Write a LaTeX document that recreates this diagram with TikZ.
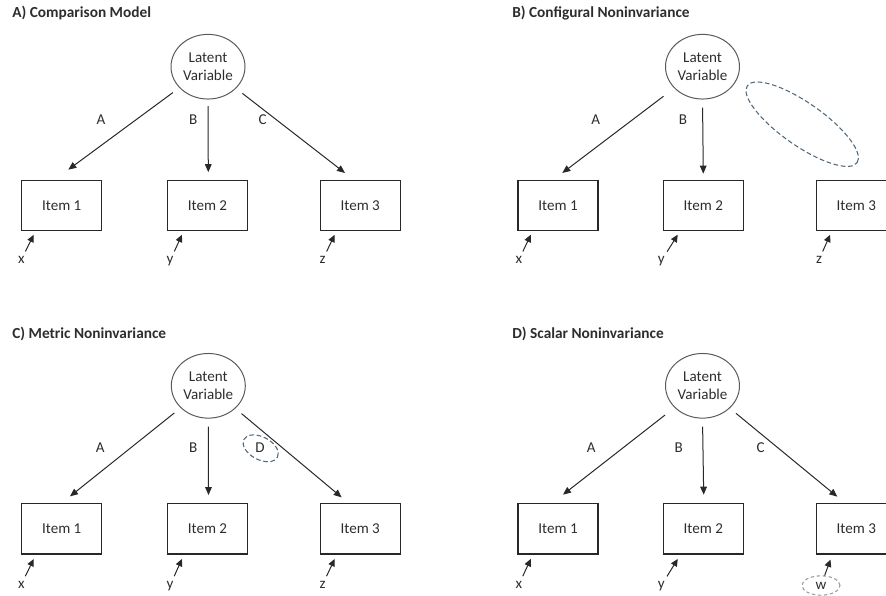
\documentclass[tikz,border=0pt]{standalone}
\usepackage{fontspec}
\setmainfont{Carlito}
\usetikzlibrary{shapes.geometric,arrows.meta,calc}
\definecolor{ln}{RGB}{40,40,40}
\definecolor{lvln}{RGB}{90,90,90}
\definecolor{tx}{RGB}{45,45,45}
\definecolor{hlblue}{RGB}{78,104,124}
\definecolor{hlgray}{RGB}{150,156,166}
\begin{document}
\begin{tikzpicture}[x=0.75pt,y=-0.75pt,
  every node/.style={font=\fontsize{11.3}{13.9}\selectfont, text=tx},
  lv/.style={ellipse, draw=lvln, line width=0.75pt, minimum width=55.5pt, minimum height=48.5pt, inner sep=0pt, align=center},
  item/.style={rectangle, draw=ln, line width=0.8pt, minimum width=60pt, minimum height=37.8pt, inner sep=0pt},
  ttl/.style={anchor=base west, inner sep=0pt, font=\bfseries\fontsize{11.5}{14}\selectfont},
  lbl/.style={anchor=base, inner sep=1pt},
  arr/.style={-{Triangle[length=6pt,width=5pt]}, draw=ln, line width=0.75pt},
  earr/.style={-{Triangle[length=5.5pt,width=5pt]}, draw=ln, line width=0.75pt, shorten <=2.5pt},
  hl/.style={ellipse, draw=hlblue, line width=0.8pt, dash pattern=on 3.5pt off 2pt, inner sep=0pt},
  hlg/.style={ellipse, draw=hlgray, line width=0.8pt, dash pattern=on 2.5pt off 2pt, inner sep=0pt}
]
\useasboundingbox (0,0) rectangle (886,596);
\clip (0,0) rectangle (886,596);

% ---------------- Panel A ----------------
\node[ttl] (aT) at (12,17.5) {A) Comparison Model};
\node[lv] (aL) at (208,66.7) {Latent\\Variable};
\node[item] (a1) at (61.7,205.4) {Item 1};
\node[item] (a2) at (207.5,205.4) {Item 2};
\node[item] (a3) at (360.2,205.4) {Item 3};
\coordinate (a1t) at ($(a1.north)+(6.6,-10)$);
\coordinate (a2t) at ($(a2.north)+(0.8,-7.5)$);
\coordinate (a3t) at ($(a3.north)+(-15.2,-6.7)$);
\draw[arr, shorten <=6pt] (aL) -- (a1t);
\draw[arr, shorten <=5pt] (aL.south) -- (a2t);
\draw[arr, shorten <=6pt] (aL) -- (a3t);
\node[lbl] (aA) at (101,124) {A};
\node[lbl] (aB) at (193.3,124) {B};
\node[lbl] (aC) at (262.7,124) {C};
\node[lbl] (ax) at (21.3,263.3) {x};
\node[lbl] (ay) at (170,263.3) {y};
\node[lbl] (az) at (322.7,263.3) {z};
\coordinate (axt) at ($(a1.south west)+(12.6,3.6)$);
\coordinate (ayt) at ($(a2.south west)+(15,3.6)$);
\coordinate (azt) at ($(a3.south west)+(15,3.6)$);
\draw[earr] (ax) -- (axt);
\draw[earr] (ay) -- (ayt);
\draw[earr] (az) -- (azt);

% ---------------- Panel B ----------------
\node[ttl] (bT) at (512,17.5) {B) Configural Noninvariance};
\node[lv] (bL) at (702.5,66.7) {Latent\\Variable};
\node[item] (b1) at (558,205.4) {Item 1};
\node[item] (b2) at (703.3,205.4) {Item 2};
\node[item] (b3) at (856.3,205.4) {Item 3};
\coordinate (b1t) at ($(b1.north)+(4.3,-6.7)$);
\coordinate (b2t) at ($(b2.north)+(0,-6)$);
\draw[arr, shorten <=10pt] (bL) -- (b1t);
\draw[arr, shorten <=6pt] (bL.south) -- (b2t);
\node[lbl] (bA) at (595.7,124) {A};
\node[lbl] (bB) at (683,124) {B};
\node[hl, minimum width=100.5pt, minimum height=32pt, rotate=-35] (bH) at (802.2,124.2) {};
\node[lbl] (bx) at (519,263.3) {x};
\node[lbl] (by) at (661.3,263.3) {y};
\node[lbl] (bz) at (819,263.3) {z};
\coordinate (bxt) at ($(b1.south west)+(13.3,3.6)$);
\coordinate (byt) at ($(b2.south west)+(15,3.6)$);
\coordinate (bzt) at ($(b3.south west)+(14.4,3.6)$);
\draw[earr] (bx) -- (bxt);
\draw[earr] (by) -- (byt);
\draw[earr] (bz) -- (bzt);

% ---------------- Panel C ----------------
\node[ttl] (cT) at (12,338) {C) Metric Noninvariance};
\node[lv] (cL) at (208.3,385.8) {Latent\\Variable};
\node[item] (c1) at (61.7,528.8) {Item 1};
\node[item] (c2) at (207.5,528.8) {Item 2};
\node[item] (c3) at (360.2,528.8) {Item 3};
\coordinate (c1t) at ($(c1.north)+(8.3,-6.7)$);
\coordinate (c2t) at ($(c2.north)+(1,-8)$);
\coordinate (c3t) at ($(c3.north)+(-18.5,-5.7)$);
\draw[arr, shorten <=6pt] (cL) -- (c1t);
\draw[arr, shorten <=6pt] (cL.south) -- (c2t);
\draw[arr, shorten <=6pt] (cL) -- (c3t);
\node[lbl] (cA) at (100.3,452) {A};
\node[lbl] (cB) at (193.3,452) {B};
\node[lbl] (cD) at (260,452) {D};
\node[hl, minimum width=28.5pt, minimum height=17pt, rotate=-28] (cH) at (260.7,448.3) {};
\node[lbl] (cx) at (21.3,588) {x};
\node[lbl] (cy) at (170,588) {y};
\node[lbl] (cz) at (322.7,588) {z};
\coordinate (cxt) at ($(c1.south west)+(12.6,4.4)$);
\coordinate (cyt) at ($(c2.south west)+(15,4.4)$);
\coordinate (czt) at ($(c3.south west)+(15,4.4)$);
\draw[earr] (cx) -- (cxt);
\draw[earr] (cy) -- (cyt);
\draw[earr] (cz) -- (czt);

% ---------------- Panel D ----------------
\node[ttl] (dT) at (512,338) {D) Scalar Noninvariance};
\node[lv] (dL) at (702.5,385.8) {Latent\\Variable};
\node[item] (d1) at (558,528.8) {Item 1};
\node[item] (d2) at (703.3,528.8) {Item 2};
\node[item] (d3) at (856.3,528.8) {Item 3};
\coordinate (d1t) at ($(d1.north)+(5,-8.4)$);
\coordinate (d2t) at ($(d2.north)+(0.4,-8.4)$);
\coordinate (d3t) at ($(d3.north)+(-19,-6.4)$);
\draw[arr, shorten <=9pt] (dL) -- (d1t);
\draw[arr, shorten <=6pt] (dL.south) -- (d2t);
\draw[arr, shorten <=6pt] (dL) -- (d3t);
\node[lbl] (dA) at (591.3,452) {A};
\node[lbl] (dB) at (678.7,452) {B};
\node[lbl] (dC) at (760.7,452) {C};
\node[lbl] (dx) at (519,588) {x};
\node[lbl] (dy) at (661.3,588) {y};
\node[hlg, minimum width=28.5pt, minimum height=14.5pt] (dw) at (821,585.5) {w};
\coordinate (dxt) at ($(d1.south west)+(13.3,4.4)$);
\coordinate (dyt) at ($(d2.south west)+(15,4.4)$);
\coordinate (dwt) at ($(d3.south west)+(14.7,5)$);
\draw[earr] (dx) -- (dxt);
\draw[earr] (dy) -- (dyt);
\draw[earr, shorten <=0pt] (dw) -- (dwt);
\end{tikzpicture}
\end{document}
